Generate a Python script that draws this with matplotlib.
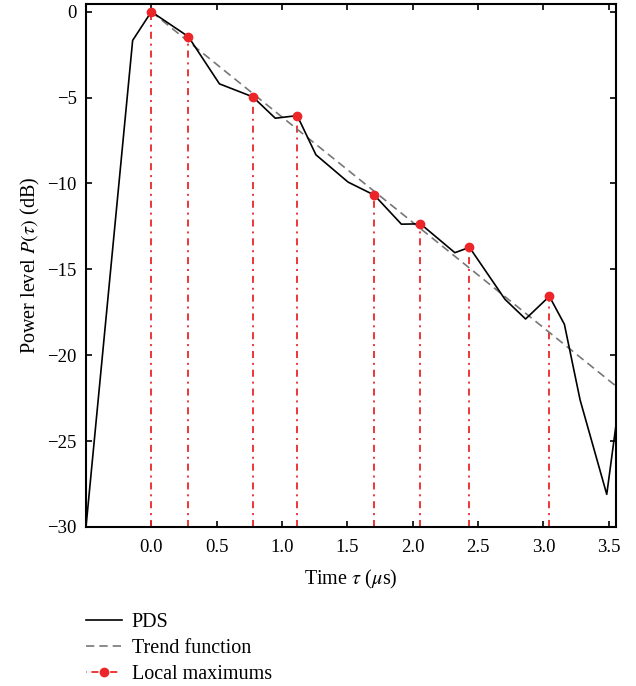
import matplotlib
matplotlib.use("Agg")
import matplotlib.pyplot as plt
from matplotlib.lines import Line2D

plt.rcParams['font.family'] = ['Liberation Serif', 'DejaVu Serif']
plt.rcParams['mathtext.fontset'] = 'stix'

# PDS curve
pds_t = [-0.5, -0.143, 0.0, 0.283, 0.521, 0.777, 0.948, 1.116, 1.259, 1.505,
         1.706, 1.913, 2.059, 2.322, 2.434, 2.705, 2.863, 3.045, 3.16, 3.28,
         3.484, 3.555]
pds_p = [-30.0, -1.67, 0.0, -1.45, -4.2, -4.96, -6.2, -6.05, -8.33, -9.92,
         -10.68, -12.37, -12.35, -14.03, -13.72, -16.74, -17.89, -16.57, -18.2, -22.6,
         -28.1, -24.05]

# Local maximums
max_t = [0.0, 0.283, 0.777, 1.116, 1.706, 2.059, 2.434, 3.045]
max_p = [0.0, -1.45, -4.96, -6.05, -10.68, -12.35, -13.72, -16.57]

# Trend function (linear)
trend_t = [0.0, 3.555]
trend_p = [0.0, -21.8]

xticks = [0.0, 0.5, 1.0, 1.5, 2.0, 2.5, 3.0, 3.5]
yticks = [0, -5, -10, -15, -20, -25, -30]

red = '#ec2528'
dashdot = (0, (3.9, 2.7, 1.1, 2.7))
fig = plt.figure(figsize=(6.36, 6.86), dpi=100)
ax = fig.add_axes([0.1352, 0.2318, 0.8334, 0.7624])

ymin = -30
for t, p in zip(max_t, max_p):
    ax.plot([t, t], [ymin, p], color=red, lw=1.3, linestyle=dashdot, zorder=2)
ax.plot(trend_t, trend_p, color='#777777', lw=1.2, linestyle=(0, (5, 3)), zorder=3)
ax.plot(pds_t, pds_p, color='black', lw=1.2, zorder=4)
ax.plot(max_t, max_p, 'o', color=red, markersize=6, zorder=5)

ax.set_xlim(-0.5, 3.555)
ax.set_ylim(-30, 0.45)
ax.set_xticks(xticks)
ax.set_xticklabels([f"{v:.1f}" for v in xticks])
ax.set_yticks(yticks)
ax.tick_params(direction='in', length=4, width=1.2, top=True, right=True,
               labelsize=13.5)
ax.tick_params(axis='x', pad=8.5)
ax.tick_params(axis='y', pad=6.5)
for s in ax.spines.values():
    s.set_linewidth(1.5)

ax.set_xlabel(r'Time $\tau$ ($\mu$s)', fontsize=14.5, labelpad=9)
ax.set_ylabel(r'Power level $P(\tau)$ (dB)', fontsize=14.5, labelpad=4)

handles = [
    Line2D([], [], color='black', lw=1.2),
    Line2D([], [], color='#777777', lw=1.2, linestyle=(0, (5, 3))),
    Line2D([], [], color=red, lw=1.3, linestyle=(0.8, (1.1, 2.7, 3.9, 2.7)),
           marker='o', markersize=6),
]
labels = ['PDS', 'Trend function', 'Local maximums']
fig.legend(handles, labels, loc='upper left', bbox_to_anchor=(0.136, 0.107),
           frameon=False, fontsize=14.5, handlelength=1.75, handletextpad=0.5,
           labelspacing=0.34, borderaxespad=0, borderpad=0)

fig.savefig('out.png', dpi=100)
